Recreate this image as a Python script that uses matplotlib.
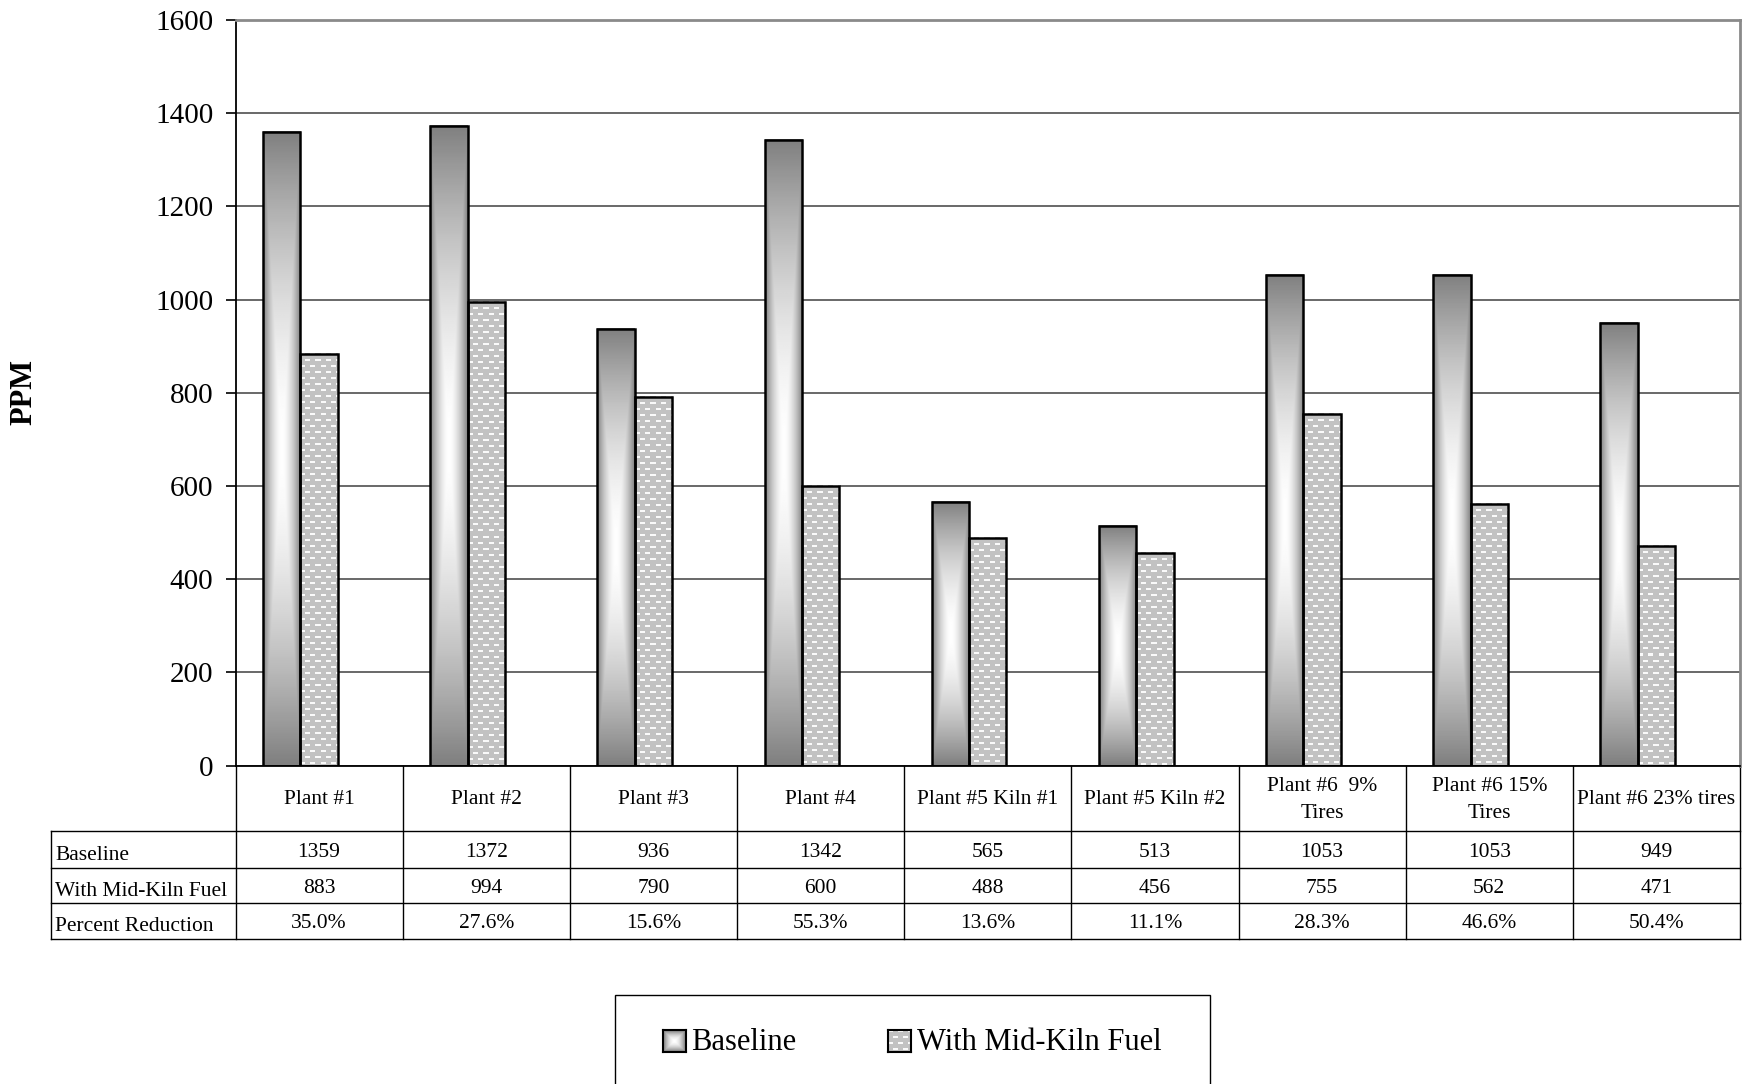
import numpy as np
import matplotlib.pyplot as plt
from matplotlib.patches import Rectangle
from matplotlib.transforms import blended_transform_factory

plants = ['Plant #1', 'Plant #2', 'Plant #3', 'Plant #4', 'Plant #5 Kiln #1',
          'Plant #5 Kiln #2', 'Plant #6  9%\nTires', 'Plant #6 15%\nTires',
          'Plant #6 23% tires']
baseline = [1359, 1372, 936, 1342, 565, 513, 1053, 1053, 949]
mid_kiln = [883, 994, 790, 600, 488, 456, 755, 562, 471]
pct_reduction = [35.0, 27.6, 15.6, 55.3, 13.6, 11.1, 28.3, 46.6, 50.4]
row_labels = ['Baseline', 'With Mid-Kiln Fuel', 'Percent Reduction']

plt.rcParams['font.family'] = ['Liberation Serif', 'DejaVu Serif']

W, H = 1742, 1084
fig = plt.figure(figsize=(W / 100, H / 100), dpi=100)


def fy(py):
    # pixel row (from top) -> figure fraction
    return 1 - py / H


ax = fig.add_axes([235.5 / W, fy(765.5), (1740 - 235.5) / W, (765.5 - 20) / H])
ax.set_xlim(-0.5, 8.5)
ax.set_ylim(0, 1600)


def center_gradient(nr, nc):
    u = np.abs(np.linspace(-1, 1, nc))[None, :]
    v = np.abs(np.linspace(-1, 1, nr))[:, None]
    d = np.maximum(u, v)
    return 1 - 0.5 * d ** 1.7


def dash_texture(h, w):
    r, c = np.mgrid[0:h, 0:w]
    shift = ((r // 6) % 2) * 5
    img = np.full((h, w), 0.76)
    dash = ((r % 6) < 2) & (((c + shift) % 10) < 5)
    img[dash] = 0.98
    return img


bw = 0.223
x = np.arange(len(plants))
grad = center_gradient(300, 80)

for i in x:
    # baseline bar with centre-out gradient
    x0 = i - bw * 1.5
    ax.imshow(grad, cmap='gray', vmin=0, vmax=1, origin='lower',
              extent=[x0, x0 + bw, 0, baseline[i]], aspect='auto',
              interpolation='bilinear', zorder=2)
    ax.add_patch(Rectangle((x0, 0), bw, baseline[i], fill=False,
                           ec='black', lw=1.8, zorder=3))
    # mid-kiln bar with dashed texture
    x1 = i - bw * 0.5
    p0 = ax.transData.transform((x1, 0))
    p1 = ax.transData.transform((x1 + bw, mid_kiln[i]))
    tw, th = int(round(p1[0] - p0[0])), int(round(p1[1] - p0[1]))
    ax.imshow(dash_texture(th, tw), cmap='gray', vmin=0, vmax=1, origin='upper',
              extent=[x1, x1 + bw, 0, mid_kiln[i]], aspect='auto',
              interpolation='nearest', zorder=2)
    ax.add_patch(Rectangle((x1, 0), bw, mid_kiln[i], fill=False,
                           ec='black', lw=1.8, zorder=3))

ax.set_xlim(-0.5, 8.5)
ax.set_ylim(0, 1600)
ax.set_yticks(range(0, 1601, 200))
ax.set_xticks([])
ax.yaxis.grid(True, color='#404040', lw=1.1)
ax.set_axisbelow(True)
ax.tick_params(axis='y', direction='out', length=7, width=1.2, labelsize=21, pad=9)
for s in ['top', 'right']:
    ax.spines[s].set_color('#8a8a8a')
    ax.spines[s].set_linewidth(2)
for s in ['left', 'bottom']:
    ax.spines[s].set_color('black')
    ax.spines[s].set_linewidth(1.3)

fig.text(24 / W, fy(392), 'PPM', rotation=90, fontweight='bold', fontsize=22,
         ha='center', va='center')

# data table under the axis
tr = blended_transform_factory(ax.transData, fig.transFigure)
x_lab = ax.transData.inverted().transform((51, 0))[0]
line_kw = dict(color='black', lw=1, transform=tr, clip_on=False)
for k in range(len(plants) + 1):
    ax.plot([k - 0.5, k - 0.5], [fy(765.5), fy(939)], **line_kw)
ax.plot([x_lab, x_lab], [fy(831), fy(939)], **line_kw)
for py in [831, 868, 903, 939]:
    ax.plot([x_lab, 8.5], [fy(py), fy(py)], **line_kw)

for i, name in enumerate(plants):
    ax.text(i, fy(800), name, transform=tr, ha='center', va='center',
            fontsize=15.5, linespacing=1.6)
    ax.text(i, fy(852.5), str(baseline[i]), transform=tr, ha='center',
            va='center', fontsize=15.5)
    ax.text(i, fy(888.5), str(mid_kiln[i]), transform=tr, ha='center',
            va='center', fontsize=15.5)
    ax.text(i, fy(923.5), f'{pct_reduction[i]:.1f}%', transform=tr,
            ha='center', va='center', fontsize=15.5)
for label, py in zip(row_labels, [855.5, 891.5, 926.5]):
    fig.text(55 / W, fy(py), label, ha='left', va='center', fontsize=15.5)

# legend box
fig.add_artist(Rectangle((615 / W, fy(1095)), (1210 - 615) / W, (1095 - 995) / H,
                         transform=fig.transFigure, fill=False, ec='black', lw=1))
sw1 = fig.add_axes([663 / W, fy(1052), 23 / W, 22 / H])
sw1.imshow(center_gradient(22, 23), cmap='gray', vmin=0, vmax=1, aspect='auto')
sw2 = fig.add_axes([888 / W, fy(1052), 23 / W, 22 / H])
sw2.imshow(dash_texture(22, 23), cmap='gray', vmin=0, vmax=1, aspect='auto')
for sw in (sw1, sw2):
    sw.set_xticks([])
    sw.set_yticks([])
    for s in sw.spines.values():
        s.set_linewidth(1.5)
fig.text(691 / W, fy(1043), 'Baseline', ha='left', va='center', fontsize=22)
fig.text(917 / W, fy(1043), 'With Mid-Kiln Fuel', ha='left', va='center', fontsize=22)

fig.savefig('out.png', dpi=100)
